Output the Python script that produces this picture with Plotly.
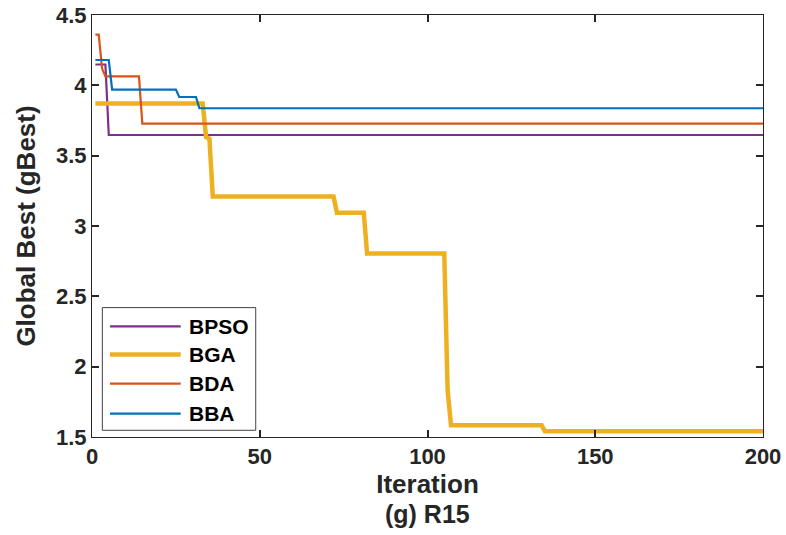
import plotly.graph_objects as go

# Convergence of global best per iteration (change points of each step curve)
bpso_iter = [1, 4, 5, 200]
bpso_best = [4.148, 4.148, 3.647, 3.647]

bga_iter = [1, 33, 34, 35, 36, 72, 73, 81, 82, 105, 106, 107, 134, 135, 200]
bga_best = [3.870, 3.870, 3.633, 3.621, 3.210, 3.210, 3.095, 3.095, 2.804,
            2.804, 1.832, 1.583, 1.583, 1.541, 1.541]

bda_iter = [1, 2, 3, 4, 14, 15, 200]
bda_best = [4.361, 4.361, 4.119, 4.064, 4.064, 3.728, 3.728]

bba_iter = [1, 5, 6, 25, 26, 31, 32, 200]
bba_best = [4.180, 4.180, 3.970, 3.970, 3.917, 3.917, 3.837, 3.837]

series_names = ["BPSO", "BGA", "BDA", "BBA"]
series_colors = ["#7E2F8E", "#EDB120", "#D95319", "#0072BD"]
series_widths = [2.2, 4.5, 2.2, 2.2]

x_ticks = [0, 50, 100, 150, 200]
y_ticks = [1.5, 2, 2.5, 3, 3.5, 4, 4.5]

FONT = "Liberation Sans, Arial, sans-serif"
INK = "#262626"

fig = go.Figure()
for name, xs, ys, col, w in zip(series_names,
                                [bpso_iter, bga_iter, bda_iter, bba_iter],
                                [bpso_best, bga_best, bda_best, bba_best],
                                series_colors, series_widths):
    fig.add_trace(go.Scatter(x=xs, y=ys, mode="lines", name=name,
                             line=dict(color=col, width=w),
                             showlegend=False))

# Boxed legend drawn in axis-domain coordinates
fig.add_shape(type="rect", xref="x domain", yref="y domain",
              x0=0.0154, x1=0.244, y0=0.0159, y1=0.3066,
              line=dict(color="#404040", width=1), fillcolor="white")
row_y = [0.2623, 0.1953, 0.1265, 0.0555]
for name, col, w, ry in zip(series_names, series_colors, series_widths, row_y):
    fig.add_shape(type="line", xref="x domain", yref="y domain",
                  x0=0.0268, x1=0.1322, y0=ry, y1=ry,
                  line=dict(color=col, width=w))
    fig.add_annotation(xref="x domain", yref="y domain", x=0.1421, y=ry,
                       xanchor="left", yanchor="middle", showarrow=False,
                       text=name, font=dict(family=FONT, size=21, color="black", weight=700))

fig.add_annotation(xref="paper", yref="paper", x=0.5, y=-0.183,
                   xanchor="center", yanchor="middle", showarrow=False,
                   text="(g) R15",
                   font=dict(family=FONT, size=25, color=INK, weight=700))

axis_common = dict(showgrid=False, zeroline=False, showline=True,
                   linecolor=INK, linewidth=1, mirror="allticks",
                   ticks="inside", ticklen=7, tickwidth=1.5, tickcolor=INK,
                   automargin=False,
                   tickfont=dict(family=FONT, size=22, color=INK, weight=700))

fig.update_xaxes(range=[0, 200], tickvals=x_ticks,
                 title=dict(text="Iteration", standoff=5,
                            font=dict(family=FONT, size=26, color=INK, weight=700)),
                 **axis_common)
fig.update_yaxes(range=[1.5, 4.5], tickvals=y_ticks,
                 title=dict(text="Global Best (gBest)", standoff=12,
                            font=dict(family=FONT, size=26, color=INK, weight=700)),
                 **axis_common)

fig.update_layout(width=786, height=535,
                  margin=dict(l=92, r=23, t=15, b=98),
                  paper_bgcolor="white", plot_bgcolor="white")

fig.write_html("out.html")
